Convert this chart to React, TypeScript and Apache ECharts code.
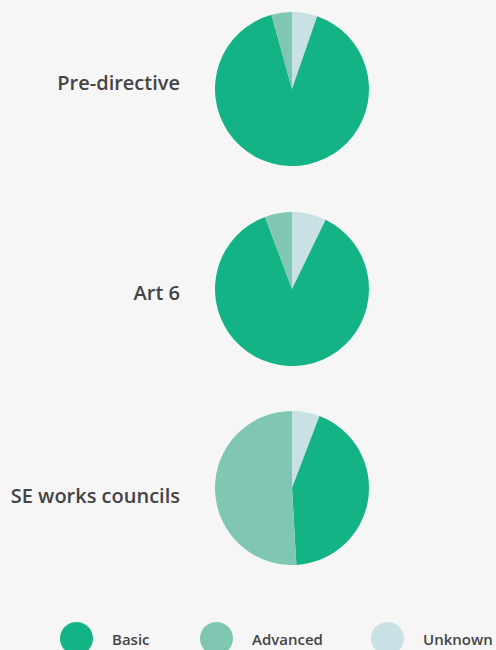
import React, { useEffect, useRef } from "react";
import * as echarts from "echarts";

const categories = ["Basic", "Advanced", "Unknown"];
const colors = ["#14b386", "#80c7b3", "#c9e0e5"];
const groups = ["Pre-directive", "Art 6", "SE works councils"];
// percentages per group, in category order: Basic, Advanced, Unknown
const basicValues = [90.4, 87.1, 43.3];
const advancedValues = [4.3, 5.7, 50.9];
const unknownValues = [5.3, 7.2, 5.8];

const FONT = "'Open Sans', 'Noto Sans', sans-serif";

export default function App() {
  const ref = useRef<HTMLDivElement>(null);
  useEffect(() => {
    if (!ref.current) return;
    const chart = echarts.init(ref.current, undefined, { renderer: "svg" });
    const centersY = [89, 289, 488];
    const labelY = [82, 292, 495];
    const legendLeft = [60, 200, 371];
    const series = groups.map((g, i) => ({
      type: "pie",
      name: g,
      center: [292, centersY[i]],
      radius: 77,
      startAngle: 90,
      clockwise: true,
      silent: true,
      label: { show: false },
      labelLine: { show: false },
      itemStyle: { borderWidth: 0 },
      data: [
        { name: categories[2], value: unknownValues[i], itemStyle: { color: colors[2] } },
        { name: categories[0], value: basicValues[i], itemStyle: { color: colors[0] } },
        { name: categories[1], value: advancedValues[i], itemStyle: { color: colors[1] } },
      ],
    }));
    chart.setOption({
      animation: false,
      backgroundColor: "#f6f6f6",
      legend: categories.map((c, i) => ({
        data: [c],
        left: legendLeft[i],
        top: 622,
        padding: 0,
        icon: "circle",
        itemWidth: 33,
        itemHeight: 33,
        selectedMode: false,
        textStyle: {
          fontFamily: FONT,
          fontSize: 15,
          fontWeight: 600,
          color: "#444444",
          lineHeight: 15,
          padding: [0, 0, 6, 14],
        },
      })),
      graphic: groups.map((g, i) => ({
        type: "text",
        x: 180,
        y: labelY[i],
        style: {
          text: g,
          textAlign: "right",
          textVerticalAlign: "middle",
          fontFamily: FONT,
          fontSize: 20,
          fontWeight: 600,
          fill: "#444444",
        },
      })),
      series,
    });
    return () => chart.dispose();
  }, []);
  return (
    <div
      ref={ref}
      style={{ position: "fixed", left: 0, top: 0, width: 496, height: 650 }}
    />
  );
}
